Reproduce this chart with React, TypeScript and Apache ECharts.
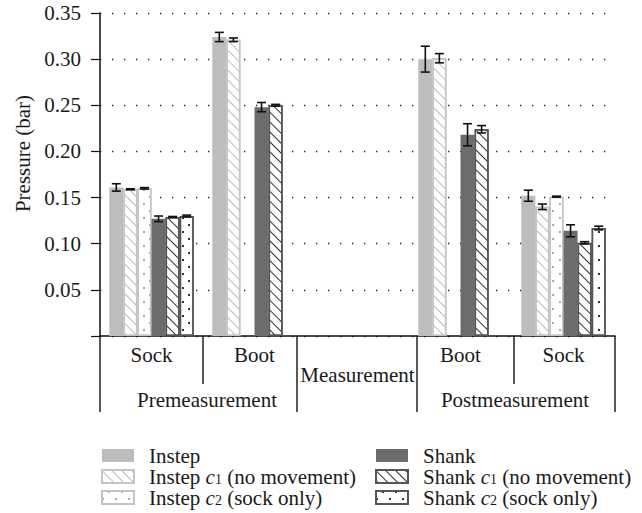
import React, { useEffect, useRef } from 'react';
import * as echarts from 'echarts';

const categories = ['Sock', 'Boot', 'Measurement', 'Boot', 'Sock'];
const groupLabels = ['Premeasurement', 'Postmeasurement'];
const yTicks = [0, 0.05, 0.1, 0.15, 0.2, 0.25, 0.3, 0.35];

const seriesNames = [
  'Instep',
  'Instep c1 (no movement)',
  'Instep c2 (sock only)',
  'Shank',
  'Shank c1 (no movement)',
  'Shank c2 (sock only)',
];

const instep = [0.161, 0.324, null, 0.3, 0.152];
const instepErr = [0.004, 0.005, null, 0.014, 0.006];
const instepC1 = [0.159, 0.321, null, 0.301, 0.14];
const instepC1Err = [0.0005, 0.002, null, 0.005, 0.003];
const instepC2 = [0.16, null, null, null, 0.151];
const instepC2Err = [0.0008, null, null, null, 0.0005];
const shank = [0.127, 0.248, null, 0.218, 0.114];
const shankErr = [0.003, 0.005, null, 0.012, 0.0065];
const shankC1 = [0.129, 0.25, null, 0.224, 0.101];
const shankC1Err = [0.0005, 0.001, null, 0.004, 0.0012];
const shankC2 = [0.13, null, null, null, 0.117];
const shankC2Err = [0.001, null, null, null, 0.002];

const FONT = "Liberation Serif";
const FS = 21;
const CAT_GAP = 0.18;

const hatch = (color: string) => ({
  symbol: 'rect',
  symbolSize: 1,
  color,
  dashArrayX: [1, 0],
  dashArrayY: [1, 6],
  rotation: Math.PI / 4,
});

const dots = (color: string, size: number) => ({
  symbol: 'rect',
  symbolSize: 1,
  color,
  dashArrayX: [
    [size, 12 - size],
    [0, 6, size, 6 - size],
  ],
  dashArrayY: [size, 6 - size],
});

const styles: any[] = [
  { color: '#bdbdbd' },
  { color: '#ffffff', borderColor: '#c4c4c4', borderWidth: 1.5, decal: hatch('#bcbcbc') },
  { color: '#ffffff', borderColor: '#c4c4c4', borderWidth: 1.5, decal: dots('#a8a8a8', 1.3) },
  { color: '#6c6c6c' },
  { color: '#ffffff', borderColor: '#555555', borderWidth: 1.5, decal: hatch('#333333') },
  { color: '#ffffff', borderColor: '#555555', borderWidth: 1.5, decal: dots('#333333', 1.6) },
];

const values = [instep, instepC1, instepC2, shank, shankC1, shankC2];
const errors = [instepErr, instepC1Err, instepC2Err, shankErr, shankC1Err, shankC2Err];

const legendFormatter = (name: string) => {
  const m = name.match(/^(\w+) c(\d) (.*)$/);
  if (!m) return `{g|}{t|${name}}`;
  return `{g|}{t|${m[1]} }{i|c}{s|${m[2]}}{t| ${m[3]}}`;
};

const LH = 19.5;
const legendRich = {
  g: { width: 10, height: LH, lineHeight: LH, fontFamily: FONT },
  t: { fontFamily: FONT, fontSize: FS, color: '#1a1a1a', lineHeight: LH, verticalAlign: 'middle' },
  i: { fontFamily: FONT, fontSize: FS, fontStyle: 'italic', color: '#1a1a1a', lineHeight: LH, verticalAlign: 'middle' },
  s: { fontFamily: FONT, fontSize: 14, color: '#1a1a1a', lineHeight: 13, verticalAlign: 'bottom' },
};

function makeErrorSeries(i: number) {
  const vals = values[i];
  const errs = errors[i];
  const data: number[][] = [];
  vals.forEach((v, k) => {
    if (v != null && errs[k] != null) data.push([k, v - (errs[k] as number), v + (errs[k] as number)]);
  });
  return {
    type: 'custom',
    name: 'err' + i,
    z: 5,
    silent: true,
    data,
    encode: { x: 0, y: [1, 2] },
    renderItem: (params: any, api: any) => {
      const k = api.value(0);
      const lo = api.value(1);
      const hi = api.value(2);
      const pHi = api.coord([k, hi]);
      const pLo = api.coord([k, lo]);
      const catW = api.size([1, 0])[0];
      const bw = (catW * (1 - CAT_GAP)) / 6;
      const cx = pHi[0] + (i - 2.5) * bw;
      const half = 4.5;
      const style = { stroke: '#111111', lineWidth: 1.6 };
      return {
        type: 'group',
        children: [
          { type: 'line', shape: { x1: cx, y1: pHi[1], x2: cx, y2: pLo[1] }, style },
          { type: 'line', shape: { x1: cx - half, y1: pHi[1], x2: cx + half, y2: pHi[1] }, style },
          { type: 'line', shape: { x1: cx - half, y1: pLo[1], x2: cx + half, y2: pLo[1] }, style },
        ],
      };
    },
  };
}

export default function App() {
  const ref = useRef<HTMLDivElement>(null);
  useEffect(() => {
    if (!ref.current) return;
    const chart = echarts.init(ref.current, null, { renderer: 'svg' });

    const barSeries = seriesNames.map((name, i) => ({
      type: 'bar',
      name,
      data: values[i],
      barGap: '0%',
      barCategoryGap: CAT_GAP * 100 + '%',
      itemStyle: styles[i],
      z: 2,
    }));

    const divStyle = { stroke: '#222222', lineWidth: 1.5 };
    const vline = (x: number, y2: number) => ({
      type: 'line',
      shape: { x1: x, y1: 336, x2: x, y2 },
      style: divStyle,
      silent: true,
    });

    const legendBase = {
      type: 'plain',
      orient: 'vertical',
      top: 445,
      height: 120,
      padding: 0,
      icon: 'rect',
      itemWidth: 32,
      itemHeight: 13,
      itemGap: 0,
      formatter: legendFormatter,
      textStyle: { fontFamily: FONT, fontSize: FS, lineHeight: LH, color: '#1a1a1a', rich: legendRich },
      selectedMode: false,
    };

    chart.setOption({
      animation: false,
      backgroundColor: '#ffffff',
      textStyle: { fontFamily: FONT },
      grid: { left: 100, right: 27, top: 13, bottom: 177 },
      xAxis: {
        type: 'category',
        data: categories.map((c) =>
          c === 'Measurement' ? { value: c, textStyle: { padding: [20, 0, 0, 0] } } : c
        ),
        axisLine: { lineStyle: { color: '#111111', width: 1.5 } },
        axisTick: { show: false },
        axisLabel: {
          fontFamily: FONT,
          fontSize: FS,
          color: '#1a1a1a',
          margin: 8,
          interval: 0,
        },
      },
      yAxis: {
        type: 'value',
        min: 0,
        max: yTicks[yTicks.length - 1],
        interval: 0.05,
        name: 'Pressure (bar)',
        nameLocation: 'middle',
        nameGap: 64,
        nameTextStyle: { fontFamily: FONT, fontSize: FS, color: '#1a1a1a', padding: [0, 0, 0, 42] },
        axisLine: { show: true, lineStyle: { color: '#111111', width: 1.5 } },
        axisTick: { show: true, length: 9, lineStyle: { color: '#111111', width: 1.2 } },
        axisLabel: {
          fontFamily: FONT,
          fontSize: FS,
          color: '#1a1a1a',
          margin: 19,
          formatter: (v: number) => (v === 0 ? '' : v.toFixed(2)),
        },
        splitLine: { show: true, lineStyle: { color: '#222222', width: 1.3, type: [1.3, 10.7] } },
      },
      legend: [
        { ...legendBase, data: seriesNames.slice(0, 3), left: 101 },
        { ...legendBase, data: seriesNames.slice(3), left: 375 },
      ],
      graphic: [
        vline(100, 412),
        vline(203, 384),
        vline(297, 412),
        vline(417, 412),
        vline(514, 384),
        vline(615, 412),
        {
          type: 'text',
          x: 207,
          y: 400,
          style: { text: groupLabels[0], font: `${FS}px ${FONT}`, fill: '#1a1a1a', align: 'center', verticalAlign: 'middle' },
        },
        {
          type: 'text',
          x: 515,
          y: 400,
          style: { text: groupLabels[1], font: `${FS}px ${FONT}`, fill: '#1a1a1a', align: 'center', verticalAlign: 'middle' },
        },
      ],
      series: [...barSeries, ...seriesNames.map((_, i) => makeErrorSeries(i))],
    });
    return () => chart.dispose();
  }, []);
  return <div ref={ref} style={{ width: 642, height: 513, position: 'absolute', left: 0, top: 0 }} />;
}
